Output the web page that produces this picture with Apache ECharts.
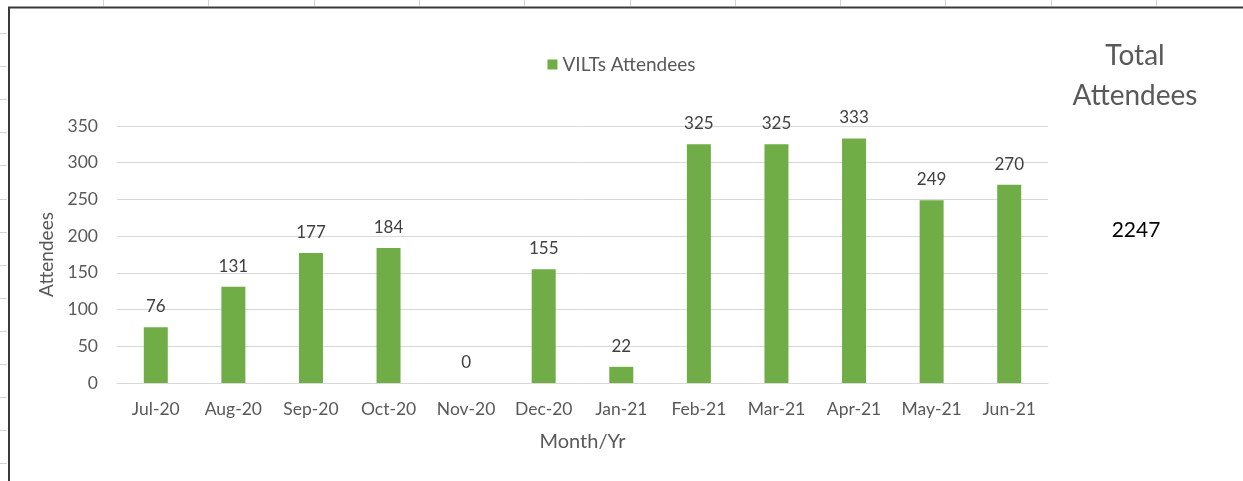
<!DOCTYPE html>
<html>
<head>
<meta charset="utf-8">
<script src="https://cdn.jsdelivr.net/npm/echarts@6/dist/echarts.min.js"></script>
<style>
  html, body { margin: 0; padding: 0; background: #fff; }
  #main { width: 1243px; height: 481px; }
</style>
</head>
<body>
<div id="main"></div>
<script>
var months = ['Jul-20', 'Aug-20', 'Sep-20', 'Oct-20', 'Nov-20', 'Dec-20',
              'Jan-21', 'Feb-21', 'Mar-21', 'Apr-21', 'May-21', 'Jun-21'];
var attendees = [76, 131, 177, 184, 0, 155, 22, 325, 325, 333, 249, 270];
var yTicks = [0, 50, 100, 150, 200, 250, 300, 350];

var total = attendees.reduce(function (a, b) { return a + b; }, 0);

var myChart = echarts.init(document.getElementById('main'));
var FONT = 'Lato, "Open Sans", sans-serif';

// spreadsheet cell borders around the pasted chart
var sheet = [];
for (var i = 0; i < 11; i++) {
    var x = Math.round(103 + i * 105.3) + 0.5;
    sheet.push({ type: 'line', shape: { x1: x, y1: 0, x2: x, y2: 6 },
        style: { stroke: '#d4d4d4', lineWidth: 1 } });
}
for (var j = 0; j < 14; j++) {
    var y = Math.round(33 + j * 33.1) + 0.5;
    sheet.push({ type: 'line', shape: { x1: 0, y1: y, x2: 7, y2: y },
        style: { stroke: '#d4d4d4', lineWidth: 1 } });
}
sheet.push({ type: 'line', shape: { x1: 8, y1: 7.5, x2: 1243, y2: 7.5 },
    style: { stroke: '#3a3a3a', lineWidth: 2 } });
sheet.push({ type: 'line', shape: { x1: 9, y1: 7, x2: 9, y2: 481 },
    style: { stroke: '#3a3a3a', lineWidth: 2 } });

// "Total Attendees" box on the right
sheet.push({
    type: 'text',
    x: 1135, y: 76,
    style: {
        text: 'Total\nAttendees',
        fill: '#595959',
        font: '28px ' + FONT,
        lineHeight: 40,
        textAlign: 'center',
        textVerticalAlign: 'middle'
    }
});
sheet.push({
    type: 'text',
    x: 1136, y: 230,
    style: {
        text: String(total),
        fill: '#000',
        font: '21px ' + FONT,
        textAlign: 'center',
        textVerticalAlign: 'middle'
    }
});

option = {
    backgroundColor: '#fff',
    animation: false,
    textStyle: { fontFamily: FONT },
    legend: {
        data: ['VILTs Attendees'],
        top: 50,
        left: 'center',
        itemWidth: 10,
        itemHeight: 10,
        itemGap: 5,
        icon: 'rect',
        textStyle: { color: '#595959', fontSize: 19, fontFamily: FONT }
    },
    grid: {
        top: 126,
        left: 117,
        right: 195,
        bottom: 98
    },
    xAxis: {
        type: 'category',
        data: months,
        name: 'Month/Yr',
        nameLocation: 'middle',
        nameGap: 49,
        nameTextStyle: { color: '#595959', fontSize: 20, fontFamily: FONT },
        axisLine: { lineStyle: { color: '#d9d9d9', width: 1 } },
        axisTick: { show: false },
        axisLabel: { interval: 0, color: '#595959', fontSize: 17.5, margin: 17, fontFamily: FONT }
    },
    yAxis: {
        type: 'value',
        min: yTicks[0],
        max: yTicks[yTicks.length - 1],
        interval: yTicks[1] - yTicks[0],
        name: 'Attendees',
        nameLocation: 'middle',
        nameGap: 53,
        nameTextStyle: { color: '#595959', fontSize: 19, fontFamily: FONT },
        axisLine: { show: false },
        axisTick: { show: false },
        axisLabel: { color: '#595959', fontSize: 17.5, margin: 19, fontFamily: FONT },
        splitLine: { lineStyle: { color: '#d9d9d9', width: 1 } }
    },
    series: [
        {
            name: 'VILTs Attendees',
            type: 'bar',
            data: attendees,
            barWidth: 24,
            itemStyle: { color: '#70ad47' },
            label: {
                show: true,
                position: 'top',
                distance: 12,
                color: '#404040',
                fontSize: 17,
                fontFamily: FONT
            }
        }
    ],
    graphic: sheet
};

myChart.setOption(option);
</script>
</body>
</html>
